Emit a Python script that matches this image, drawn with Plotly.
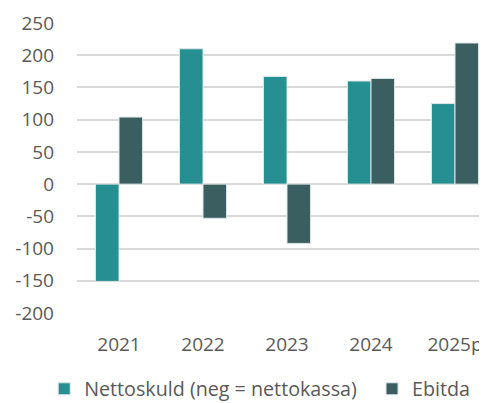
import plotly.graph_objects as go

years = ["2021", "2022", "2023", "2024", "2025p"]
nettoskuld = [-151, 210, 167, 160, 125]
ebitda = [104, -53, -92, 164, 219]
y_ticks = [250, 200, 150, 100, 50, 0, -50, -100, -150, -200]
y_labels = [str(v) for v in y_ticks]
series_names = ["Nettoskuld (neg = nettokassa)", "Ebitda"]

teal = "#268F91"
dark = "#3B5E61"
font = "Open Sans"
txt = "#595959"
fs = 19

fig = go.Figure()
fig.add_trace(go.Bar(x=years, y=nettoskuld, name=series_names[0] + "\u00a0\u00a0",
                     marker=dict(color=teal, line=dict(color="#dde5e5", width=1))))
fig.add_trace(go.Bar(x=years, y=ebitda, name=series_names[1],
                     marker=dict(color=dark, line=dict(color="#dde5e5", width=1))))

# page body has an 8px default margin, so the figure is 8px smaller
fig.update_layout(
    width=479, height=395,
    margin=dict(l=69, r=0, t=15, b=90, autoexpand=False),
    paper_bgcolor="white", plot_bgcolor="white",
    barmode="group", bargap=0.44, bargroupgap=0,
    font=dict(family=font, size=fs, color=txt),
    showlegend=True,
    legend=dict(orientation="h", x=-0.08, xanchor="left", y=-0.262, yanchor="middle",
                font=dict(size=19.7, color=txt), itemwidth=30, traceorder="normal",
                tracegroupgap=0, bgcolor="rgba(0,0,0,0)"),
    xaxis=dict(range=[-0.5, 4.381], showgrid=False, zeroline=False, showline=False,
               ticks="", ticklabelstandoff=18, automargin=False,
               tickfont=dict(size=fs, color=txt)),
    yaxis=dict(range=[-200, 250], tickvals=y_ticks, ticktext=y_labels, showgrid=True,
               gridcolor="#d9d9d9", gridwidth=1.5, zeroline=True, zerolinecolor="#d9d9d9",
               zerolinewidth=1.5, showline=False, ticks="", ticklabelstandoff=22,
               automargin=False, tickfont=dict(size=fs, color=txt)),
)

fig.write_html("out.html")
